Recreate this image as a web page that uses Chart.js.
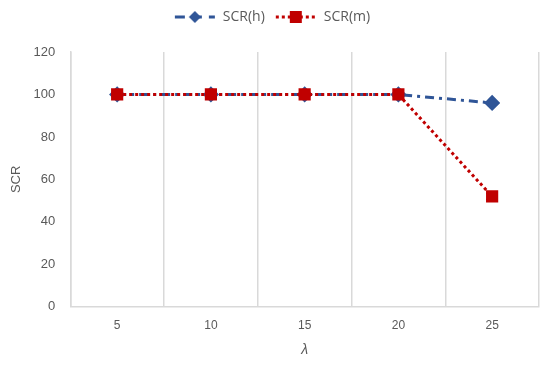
<!DOCTYPE html>
<html>
<head>
<meta charset="utf-8">
<script src="https://cdn.jsdelivr.net/npm/chart.js@4/dist/chart.umd.min.js"></script>
<style>
html,body{margin:0;padding:0;background:#fff}
#wrap{width:550px;height:365px}
</style>
</head>
<body>
<div id="wrap"><canvas id="chart" width="550" height="365"></canvas></div>
<script>
const lambdas = ["5","10","15","20","25"]
const scrH = [100,100,100,100,96]
const scrM = [100,100,100,100,52]
const yTicks = [0,20,40,60,80,100,120]

const blue = "#2f5597"
const red = "#c00000"

// small legend symbol: line with marker in the middle
function legendIcon(color, dash, marker){
const c = document.createElement("canvas")
c.width = 42
c.height = 14
const g = c.getContext("2d")
g.strokeStyle = color
g.lineWidth = 3
g.setLineDash(dash)
g.beginPath()
g.moveTo(1,7)
g.lineTo(41,7)
g.stroke()
g.setLineDash([])
g.fillStyle = color
g.beginPath()
if(marker=="diamond"){
g.moveTo(21,1);g.lineTo(27,7);g.lineTo(21,13);g.lineTo(15,7)
}else{
g.rect(15,1,12,12)
}
g.closePath()
g.fill()
return c
}

const iconH = legendIcon(blue,[10,7],"diamond")
const iconM = legendIcon(red,[3,3],"rect")

// extra room under the legend
const legendGap = {
id:"legendGap",
beforeInit(chart){
const fit = chart.legend.fit
chart.legend.fit = function(){
fit.bind(chart.legend)()
this.height += 18
}
}
}

new Chart(document.getElementById("chart"), {
type:"line",
data:{
labels:lambdas,
datasets:[{
label:"SCR(h)",
data:scrH,
order:2,
borderColor:blue,
backgroundColor:blue,
borderWidth:3,
borderDash:[9,5,3,5],
pointStyle:"rectRot",
pointRadius:6,
pointHoverRadius:6,
tension:0
},{
label:"SCR(m)",
data:scrM,
order:1,
borderColor:red,
backgroundColor:red,
borderWidth:3,
borderDash:[3,3],
pointStyle:"rect",
pointRadius:6.5,
pointHoverRadius:6.5,
tension:0
}]
},
plugins:[legendGap],
options:{
responsive:false,
animation:false,
layout:{padding:{left:5,right:11,top:0,bottom:6}},
plugins:{
legend:{
position:"top",
labels:{
usePointStyle:true,
pointStyleWidth:42,
color:"#595959",
font:{family:"'Open Sans', sans-serif",size:14},
padding:10,
generateLabels(chart){
return [0,1].map(i=>{
const ds = chart.data.datasets[i]
return {
text:ds.label,
pointStyle:i==0 ? iconH : iconM,
fillStyle:ds.borderColor,
strokeStyle:ds.borderColor,
fontColor:"#595959",
lineWidth:0,
datasetIndex:i
}
})
}
}
},
tooltip:{enabled:false}
},
scales:{
x:{
offset:true,
grid:{offset:true,color:"#d9d9d9",lineWidth:1.5,drawTicks:false},
border:{display:true,color:"#d9d9d9",width:1.5},
ticks:{color:"#595959",font:{size:12},padding:12},
title:{display:true,text:"λ",color:"#595959",font:{size:14,style:"italic"},padding:{top:-3,bottom:0}}
},
y:{
min:0,
max:120,
afterBuildTicks(axis){axis.ticks = yTicks.map(v=>({value:v}))},
grid:{display:false},
border:{display:true,color:"#d9d9d9",width:1.5},
ticks:{color:"#595959",font:{size:13},padding:7},
title:{display:true,text:"SCR",color:"#595959",font:{size:13},padding:{bottom:2}}
}
}
}
})
</script>
</body>
</html>
